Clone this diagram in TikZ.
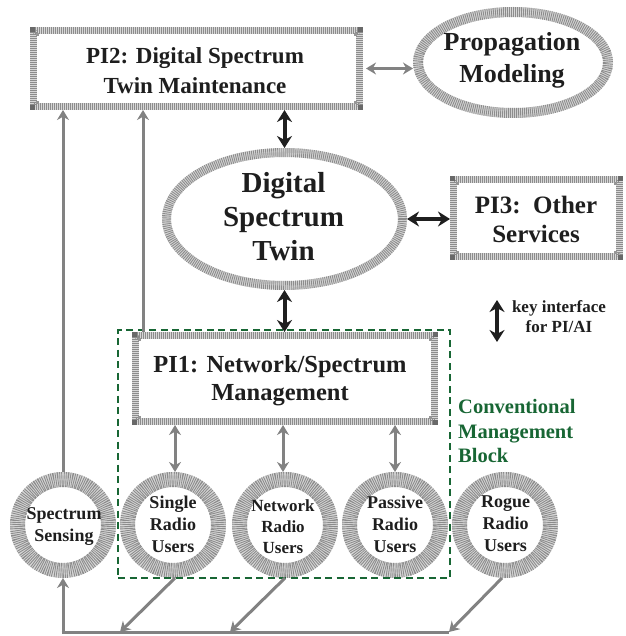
\documentclass[tikz,border=0pt]{standalone}
\usepackage{fontspec}
\setmainfont{Liberation Serif}
\usetikzlibrary{arrows.meta,shapes.geometric}
\definecolor{band}{RGB}{215,215,215}
\definecolor{tick}{RGB}{140,140,140}
\definecolor{cornerc}{RGB}{105,105,105}
\definecolor{arrgray}{RGB}{130,130,130}
\definecolor{cgreen}{RGB}{24,102,52}
\definecolor{txt}{RGB}{30,30,30}
\tikzset{
  hatchbox/.style={rectangle, draw=band, line width=7pt, outer sep=3.5pt, inner sep=0pt,
    postaction={draw=tick, line width=7pt, dash pattern=on 0.9pt off 1.1pt}},
  hatchell/.style={ellipse, draw=band, line width=#1, outer sep=0.5*#1, inner sep=0pt,
    postaction={draw=tick, line width=#1, dash pattern=on 0.9pt off 1.1pt}},
  hatchcirc/.style={circle, draw=band, line width=15pt, outer sep=7.5pt, inner sep=0pt,
    minimum size=91pt,
    postaction={draw=tick, line width=15pt, dash pattern=on 0.9pt off 1.1pt}},
  lbl/.style={align=center, inner sep=0pt, text=txt},
  blkarrow/.style={line width=4pt, draw=black!88,
    {Stealth[length=12pt,width=15pt]}-{Stealth[length=12pt,width=15pt]}},
  grayarrow/.style={line width=3pt, draw=arrgray,
    {Stealth[length=10pt,width=12pt]}-{Stealth[length=10pt,width=12pt]}},
  grayone/.style={line width=3pt, draw=arrgray, -{Stealth[length=10pt,width=12pt]}},
  grayline/.style={line width=3pt, draw=arrgray},
  greenbox/.style={draw=cgreen, line width=2.5pt, dash pattern=on 7pt off 4.5pt, inner sep=0pt}
}
\newcommand{\mycorners}[1]{%
  \fill[cornerc] (#1.north west) rectangle +(5,5);
  \fill[cornerc] (#1.north east) rectangle +(-5,5);
  \fill[cornerc] (#1.south west) rectangle +(5,-5);
  \fill[cornerc] (#1.south east) rectangle +(-5,-5);
  \fill[cornerc!70] ([shift={(6,6)}]#1.north west) rectangle +(3,3);
  \fill[cornerc!70] ([shift={(-6,6)}]#1.north east) rectangle +(-3,3);
  \fill[cornerc!70] ([shift={(6,-6)}]#1.south west) rectangle +(3,-3);
  \fill[cornerc!70] ([shift={(-6,-6)}]#1.south east) rectangle +(-3,-3);
}
\begin{document}
\begin{tikzpicture}[x=1pt,y=-1pt]
\useasboundingbox (0,0) rectangle (625,636);
% boxes
\node[hatchbox, minimum width=326pt, minimum height=76pt] (pi2) at (196.5,68.5) {};
\node[hatchbox, minimum width=166pt, minimum height=77pt] (pi3) at (536.5,218) {};
\node[hatchbox, minimum width=299pt, minimum height=86pt] (pi1) at (285,378.5) {};
\mycorners{pi2}
\mycorners{pi3}
\mycorners{pi1}
% ellipses
\node[hatchell=10pt, minimum width=190pt, minimum height=101pt] (prop) at (513,62.5) {};
\node[hatchell=9pt, minimum width=236pt, minimum height=133pt] (dst) at (284.5,219) {};
% circles
\node[hatchcirc] (ss) at (63,525) {};
\node[hatchcirc] (sru) at (173,525) {};
\node[hatchcirc] (nru) at (285,525) {};
\node[hatchcirc] (pru) at (395,525) {};
\node[hatchcirc] (rru) at (505,525) {};
% green block
\node[greenbox, minimum width=332pt, minimum height=248pt] (cmb) at (284,454) {};
% texts
\node[lbl, font=\fontsize{23}{30}\selectfont\bfseries] (pi2t) at (195,70.5) {PI2: Digital Spectrum\\Twin Maintenance};
\node[lbl, font=\fontsize{26}{32}\selectfont\bfseries] (propt) at (512,60) {Propagation\\Modeling};
\node[lbl, font=\fontsize{29}{34}\selectfont\bfseries] (dstt) at (283.5,216.5) {Digital\\Spectrum\\Twin};
\node[lbl, font=\fontsize{25}{29}\selectfont\bfseries] (pi3t) at (536,219) {PI3:\ \ Other\\Services};
\node[lbl, font=\fontsize{24.5}{28}\selectfont\bfseries] (pi1t) at (280,380.5) {PI1: Network/Spectrum\\Management};
\node[lbl, font=\fontsize{18}{22}\selectfont\bfseries] (sst) at (64,527) {Spectrum\\Sensing};
\node[lbl, font=\fontsize{18}{22}\selectfont\bfseries] (srut) at (173,524) {Single\\Radio\\Users};
\node[lbl, font=\fontsize{17}{21}\selectfont\bfseries] (nrut) at (283,526.5) {Network\\Radio\\Users};
\node[lbl, font=\fontsize{18}{22}\selectfont\bfseries] (prut) at (395,524.5) {Passive\\Radio\\Users};
\node[lbl, font=\fontsize{18}{22}\selectfont\bfseries] (rrut) at (505.5,524) {Rogue\\Radio\\Users};
\node[lbl, font=\fontsize{17}{20}\selectfont\bfseries] (keyt) at (559,317) {key interface\\for PI/AI};
\node[align=left, inner sep=0pt, anchor=west, text=cgreen, font=\fontsize{20.5}{24.5}\selectfont\bfseries] (cmbt) at (458,431) {Conventional\\Management\\Block};
% black arrows
\draw[blkarrow] (dst.north |- pi2.south) -- (dst.north);
\draw[blkarrow] (dst.east) -- (dst.east -| pi3.west);
\draw[blkarrow] (dst.south) -- (dst.south |- pi1.north);
\coordinate (ka) at (497,300);
\coordinate (kb) at (497,342);
\draw[blkarrow] (ka) -- (kb);
% gray arrows
\draw[grayarrow] ([xshift=3pt]pi2.east) -- (pi2.east -| prop.west);
\draw[grayarrow] ([xshift=2pt]sru.north |- pi1.south) -- ([xshift=2pt]sru.north);
\draw[grayarrow] ([xshift=-2pt]nru.north |- pi1.south) -- ([xshift=-2pt]nru.north);
\draw[grayarrow] (pru.north |- pi1.south) -- (pru.north);
\draw[grayone] (ss.north) -- (ss.north |- pi2.south);
\coordinate (p1up) at ([xshift=11pt]pi1.north west);
\draw[grayone] (p1up) -- (p1up |- pi2.south);
% bus
\coordinate (busy) at (0,632);
\coordinate (busL) at (ss.south |- busy);
\coordinate (b1) at ([xshift=-53pt]sru.south |- busy);
\coordinate (b2) at ([xshift=-55pt]nru.south |- busy);
\coordinate (b3) at ([xshift=-56pt]rru.south |- busy);
\draw[grayline] ([xshift=-1.5pt]busL) -- (b3);
\draw[grayone] (busL) -- (ss.south);
\draw[grayone] ([xshift=2pt]sru.south) -- (b1);
\draw[grayone] (nru.south) -- (b2);
\draw[grayone] ([xshift=-3pt]rru.south) -- (b3);
\end{tikzpicture}
\end{document}
